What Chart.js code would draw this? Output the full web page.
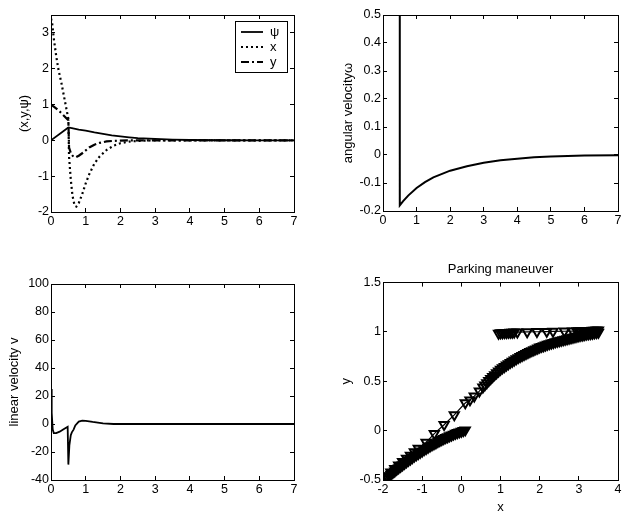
<!DOCTYPE html>
<html>
<head>
<meta charset="utf-8">
<script src="https://cdn.jsdelivr.net/npm/chart.js@4.4.1/dist/chart.umd.min.js"></script>
<style>
  html, body { margin: 0; padding: 0; background: #fff; }
  #wrap { position: relative; width: 628px; height: 512px; }
  #wrap canvas { position: absolute; }
</style>
</head>
<body>
<div id="wrap">
  <canvas id="states" width="314" height="256" style="left:0;top:0"></canvas>
  <canvas id="omega" width="314" height="256" style="left:314px;top:0"></canvas>
  <canvas id="speed" width="314" height="256" style="left:0;top:256px"></canvas>
  <canvas id="parking" width="314" height="256" style="left:314px;top:256px"></canvas>
</div>
<script>
// --- data ---
const timeTicks = [0, 1, 2, 3, 4, 5, 6, 7];
const timeLabels = ["0", "1", "2", "3", "4", "5", "6", "7"];

// (x, y, psi) against time
const psiT = [0, 0.5, 0.6, 0.8, 1.0, 1.25, 1.5, 1.75, 2.0, 2.25, 2.5, 3.0, 3.5, 4.0, 5.0, 6.0, 7.0];
const psiV = [0, 0.36, 0.34, 0.30, 0.27, 0.22, 0.18, 0.14, 0.11, 0.085, 0.065, 0.04, 0.02, 0.01, 0.003, 0.001, 0];
const xT = [0, 0.03, 0.08, 0.15, 0.22, 0.3, 0.38, 0.45, 0.5, 0.52, 0.57, 0.62, 0.68, 0.73, 0.8, 0.9, 1.0, 1.1, 1.25, 1.4, 1.6, 1.8, 2.0, 2.25, 2.5, 3.0, 7.0];
const xV = [3.4, 3.3, 2.85, 2.35, 1.95, 1.6, 1.2, 0.85, 0.6, -0.45, -1.1, -1.55, -1.82, -1.85, -1.75, -1.5, -1.2, -0.95, -0.65, -0.45, -0.27, -0.15, -0.08, -0.035, -0.015, 0, 0];
const yT = [0, 0.1, 0.2, 0.3, 0.4, 0.5, 0.52, 0.58, 0.65, 0.72, 0.8, 0.9, 1.0, 1.1, 1.25, 1.4, 1.6, 1.8, 2.0, 2.5, 3.0, 7.0];
const yV = [1.0, 0.93, 0.85, 0.76, 0.66, 0.56, -0.2, -0.38, -0.46, -0.47, -0.43, -0.36, -0.28, -0.2, -0.12, -0.07, -0.03, -0.015, -0.005, 0, 0, 0];
const statesTicks = [-2, -1, 0, 1, 2, 3];
const statesLabels = ["-2", "-1", "0", "1", "2", "3"];

// angular velocity
const omegaT = [0, 0.5, 0.5, 0.6, 0.75, 1.0, 1.25, 1.5, 2.0, 2.5, 3.0, 3.5, 4.0, 4.5, 5.0, 6.0, 7.0];
const omegaV = [0.7, 0.7, -0.18, -0.165, -0.145, -0.118, -0.097, -0.08, -0.056, -0.04, -0.028, -0.019, -0.013, -0.008, -0.005, -0.002, -0.001];
const omegaTicks = [-0.2, -0.1, 0, 0.1, 0.2, 0.3, 0.4, 0.5];
const omegaLabels = ["-0.2", "-0.1", "0", "0.1", "0.2", "0.3", "0.4", "0.5"];

// linear velocity
const speedT = [0, 0.02, 0.05, 0.08, 0.15, 0.25, 0.35, 0.48, 0.5, 0.53, 0.57, 0.6, 0.65, 0.7, 0.8, 0.9, 1.0, 1.2, 1.5, 1.8, 2.0, 7.0];
const speedV = [25, 8, -4, -6.5, -6.5, -5.5, -4, -2, -29, -15, -8, -6, -4, -1, 1.7, 2.4, 2.3, 1.5, 0.5, 0, 0, 0];
const speedTicks = [-40, -20, 0, 20, 40, 60, 80, 100];
const speedLabels = ["-40", "-20", "0", "20", "40", "60", "80", "100"];

// parking maneuver: three marker trails
const topX = [0.95, 1.0, 1.05, 1.1, 1.15, 1.2, 1.25, 1.3, 1.35, 1.43, 1.68, 1.93, 2.18, 2.34, 2.63, 2.84,
  2.95, 3.0, 3.05, 3.1, 3.15, 3.2, 3.25, 3.3, 3.35, 3.4, 3.45, 3.5];
const topY = [0.985, 0.99, 0.99, 0.992, 0.993, 0.994, 0.995, 0.996, 0.997, 0.998, 1.0, 1.002, 1.004, 1.005, 1.007, 1.009,
  1.01, 1.01, 1.011, 1.012, 1.012, 1.013, 1.014, 1.014, 1.015, 1.016, 1.017, 1.018];
const midX = [-1.9, -1.8, -1.7, -1.6, -1.5, -1.4, -1.3, -1.2, -1.1, -0.9, -0.69, -0.44, -0.18, 0.1, 0.22, 0.33, 0.46,
  0.55, 0.6, 0.65, 0.7, 0.75, 0.8, 0.85, 0.9, 0.95, 1.0, 1.05, 1.1, 1.15, 1.2, 1.25, 1.3, 1.35, 1.4, 1.45, 1.5,
  1.55, 1.6, 1.65, 1.7, 1.75, 1.8, 1.85, 1.9, 1.95, 2.0, 2.05, 2.1, 2.15, 2.2, 2.25, 2.3, 2.35, 2.4, 2.45, 2.5,
  2.55, 2.6, 2.65, 2.7, 2.75, 2.8, 2.85, 2.9, 2.95, 3.0, 3.05, 3.1, 3.15, 3.2, 3.25, 3.3, 3.35, 3.4, 3.45, 3.5];
const midY = [-0.46, -0.42, -0.385, -0.35, -0.315, -0.28, -0.25, -0.215, -0.18, -0.12, -0.03, 0.06, 0.16, 0.28, 0.31, 0.35, 0.40,
  0.44, 0.462, 0.484, 0.506, 0.527, 0.547, 0.566, 0.585, 0.603, 0.62, 0.635, 0.649, 0.663, 0.677, 0.69, 0.702, 0.714, 0.726, 0.738, 0.75,
  0.76, 0.77, 0.78, 0.79, 0.80, 0.809, 0.818, 0.827, 0.836, 0.845, 0.852, 0.859, 0.866, 0.873, 0.88, 0.886, 0.892, 0.898, 0.904, 0.91,
  0.915, 0.92, 0.925, 0.93, 0.935, 0.94, 0.945, 0.95, 0.955, 0.96, 0.964, 0.968, 0.972, 0.976, 0.98, 0.983, 0.986, 0.989, 0.992, 0.995];
const lowX = [-1.95, -1.9, -1.85, -1.8, -1.75, -1.7, -1.65, -1.6, -1.55, -1.5, -1.45, -1.4, -1.35, -1.3, -1.25, -1.2,
  -1.15, -1.1, -1.05, -1.0, -0.95, -0.9, -0.85, -0.8, -0.75, -0.7, -0.65, -0.6, -0.55, -0.5, -0.45, -0.4,
  -0.35, -0.3, -0.25, -0.2, -0.15, -0.1, -0.05, 0, 0.05, 0.1];
const lowY = [-0.49, -0.474, -0.458, -0.442, -0.426, -0.41, -0.394, -0.378, -0.362, -0.347, -0.332, -0.317, -0.302, -0.288, -0.274, -0.26,
  -0.246, -0.233, -0.22, -0.207, -0.194, -0.182, -0.17, -0.158, -0.146, -0.135, -0.124, -0.113, -0.102, -0.092, -0.082, -0.072,
  -0.063, -0.054, -0.045, -0.037, -0.029, -0.021, -0.014, -0.007, 0, 0.006];
const parkXTicks = [-2, -1, 0, 1, 2, 3, 4];
const parkXLabels = ["-2", "-1", "0", "1", "2", "3", "4"];
const parkYTicks = [-0.5, 0, 0.5, 1, 1.5];
const parkYLabels = ["-0.5", "0", "0.5", "1", "1.5"];

// --- helpers ---
Chart.defaults.font.family = '"Liberation Sans", Arial, sans-serif';
Chart.defaults.font.size = 12.5;
Chart.defaults.color = "#000";

const pts = (xs, ys) => xs.map((x, i) => ({ x: x, y: ys[i] }));

// legend drawn inside the plot box, MATLAB style
const insideLegend = {
  id: "insideLegend",
  afterDraw(chart, args, opts) {
    const { ctx, chartArea } = chart;
    const left = chartArea.right - opts.right - opts.width;
    const top = chartArea.top + opts.top;
    ctx.save();
    ctx.fillStyle = "#fff";
    ctx.fillRect(left, top, opts.width, opts.height);
    ctx.strokeStyle = "#000";
    ctx.lineWidth = 1;
    ctx.strokeRect(left + 0.5, top + 0.5, opts.width, opts.height);
    ctx.font = opts.font;
    ctx.textBaseline = "middle";
    ctx.fillStyle = "#000";
    chart.data.datasets.forEach((ds, i) => {
      const y = top + opts.firstRow + i * opts.rowGap;
      ctx.setLineDash(ds.borderDash || []);
      ctx.lineWidth = ds.borderWidth;
      ctx.beginPath();
      ctx.moveTo(left + opts.lineStart, y);
      ctx.lineTo(left + opts.lineStart + opts.lineLen, y);
      ctx.stroke();
      ctx.setLineDash([]);
      ctx.fillText(ds.label, left + opts.textStart, y);
    });
    ctx.restore();
  },
};

// box with inward ticks on all four sides
function boxScales(o) {
  const grid = { drawOnChartArea: false, tickLength: -4, color: "#000", lineWidth: 1 };
  const border = { color: "#000", width: 1 };
  const setTicks = (vals) => (scale) => {
    scale.ticks = vals.map((v) => ({ value: v }));
  };
  const xTitle = o.xTitle
    ? { display: true, text: o.xTitle, font: { size: 13 }, padding: { top: 0, bottom: o.xTitlePad } }
    : { display: false };
  return {
    x: {
      type: "linear", position: "bottom", min: o.xMin, max: o.xMax,
      afterBuildTicks: setTicks(o.xTicks),
      afterFit: (s) => { s.height = o.xAxisH; },
      grid, border,
      ticks: { padding: 6.5, maxRotation: 0, autoSkip: false, callback: (v, i) => o.xLabels[i] },
      title: xTitle,
    },
    y: {
      type: "linear", position: "left", min: o.yMin, max: o.yMax,
      afterBuildTicks: setTicks(o.yTicks),
      afterFit: (s) => { s.width = o.yAxisW; },
      grid, border,
      ticks: { padding: 6, autoSkip: false, callback: (v, i) => o.yLabels[i] },
      title: { display: true, text: o.yTitle, font: { size: 13 }, padding: { top: o.yTitlePad, bottom: 0 } },
    },
    x2: {
      type: "linear", position: "top", min: o.xMin, max: o.xMax,
      afterBuildTicks: setTicks(o.xTicks),
      afterFit: (s) => { s.height = 0; },
      grid, border, ticks: { display: false },
    },
    y2: {
      type: "linear", position: "right", min: o.yMin, max: o.yMax,
      afterBuildTicks: setTicks(o.yTicks),
      afterFit: (s) => { s.width = 0; },
      grid, border, ticks: { display: false },
    },
  };
}

function baseOptions(scales, padding, extraPlugins) {
  return {
    responsive: false,
    animation: false,
    devicePixelRatio: 1,
    layout: { padding: padding },
    scales: scales,
    elements: { point: { radius: 0 }, line: { tension: 0 } },
    plugins: Object.assign({ legend: { display: false }, tooltip: { enabled: false } }, extraPlugins || {}),
  };
}

// (x, y, psi)
new Chart(document.getElementById("states"), {
  type: "line",
  data: {
    datasets: [
      { label: "ψ", data: pts(psiT, psiV), borderColor: "#000", borderWidth: 1.8 },
      { label: "x", data: pts(xT, xV), borderColor: "#000", borderWidth: 2.2, borderDash: [2, 3] },
      { label: "y", data: pts(yT, yV), borderColor: "#000", borderWidth: 2.2, borderDash: [8, 3, 2, 3] },
    ],
  },
  options: baseOptions(
    boxScales({
      xMin: 0, xMax: 7, xTicks: timeTicks, xLabels: timeLabels, xAxisH: 44,
      yMin: -2, yMax: 3.5, yTicks: statesTicks, yLabels: statesLabels, yAxisW: 51,
      yTitle: "(x,y,ψ)", yTitlePad: 17,
    }),
    { left: 0, right: 20, top: 15, bottom: 0 },
    {
      insideLegend: {
        right: 7, top: 6, width: 52, height: 51, firstRow: 11, rowGap: 15,
        lineStart: 6, lineLen: 22, textStart: 35, font: '13px "Liberation Sans", Arial, sans-serif',
      },
    }
  ),
  plugins: [insideLegend],
});

// angular velocity
new Chart(document.getElementById("omega"), {
  type: "line",
  data: {
    datasets: [{ label: "ω", data: pts(omegaT, omegaV), borderColor: "#000", borderWidth: 2 }],
  },
  options: baseOptions(
    boxScales({
      xMin: 0, xMax: 7, xTicks: timeTicks, xLabels: timeLabels, xAxisH: 45,
      yMin: -0.2, yMax: 0.5, yTicks: omegaTicks, yLabels: omegaLabels, yAxisW: 69,
      yTitle: "angular velocityω", yTitlePad: 27,
    }),
    { left: 0, right: 4, top: 15, bottom: 0 }
  ),
});

// linear velocity
new Chart(document.getElementById("speed"), {
  type: "line",
  data: {
    datasets: [{ label: "v", data: pts(speedT, speedV), borderColor: "#000", borderWidth: 1.8 }],
  },
  options: baseOptions(
    boxScales({
      xMin: 0, xMax: 7, xTicks: timeTicks, xLabels: timeLabels, xAxisH: 32,
      yMin: -40, yMax: 100, yTicks: speedTicks, yLabels: speedLabels, yAxisW: 51,
      yTitle: "linear velocity v", yTitlePad: 7,
    }),
    { left: 0, right: 20, top: 28, bottom: 0 }
  ),
});

// parking maneuver
const trail = (label, xs, ys) => ({
  label: label,
  data: pts(xs, ys),
  showLine: true,
  borderColor: "#000",
  borderWidth: 1.2,
  pointStyle: "triangle",
  rotation: 180,
  pointRadius: 5.3,
  pointBorderWidth: 2,
  pointBorderColor: "#000",
  pointBackgroundColor: "rgba(0,0,0,0)",
});

const parkOptions = baseOptions(
  boxScales({
    xMin: -2, xMax: 4, xTicks: parkXTicks, xLabels: parkXLabels, xAxisH: 32,
    xTitle: "x", xTitlePad: -3.5,
    yMin: -0.5, yMax: 1.5, yTicks: parkYTicks, yLabels: parkYLabels, yAxisW: 69,
    yTitle: "y", yTitlePad: 25,
  }),
  { left: 0, right: 3, top: 0, bottom: 0 },
  {
    title: {
      display: true, text: "Parking maneuver", fullSize: false,
      font: { size: 13, weight: "normal" }, padding: { top: 6, bottom: 5 },
    },
  }
);

new Chart(document.getElementById("parking"), {
  type: "line",
  data: {
    datasets: [
      trail("top", topX, topY),
      trail("middle", midX, midY),
      trail("lower", lowX, lowY),
    ],
  },
  options: parkOptions,
});
</script>
</body>
</html>
